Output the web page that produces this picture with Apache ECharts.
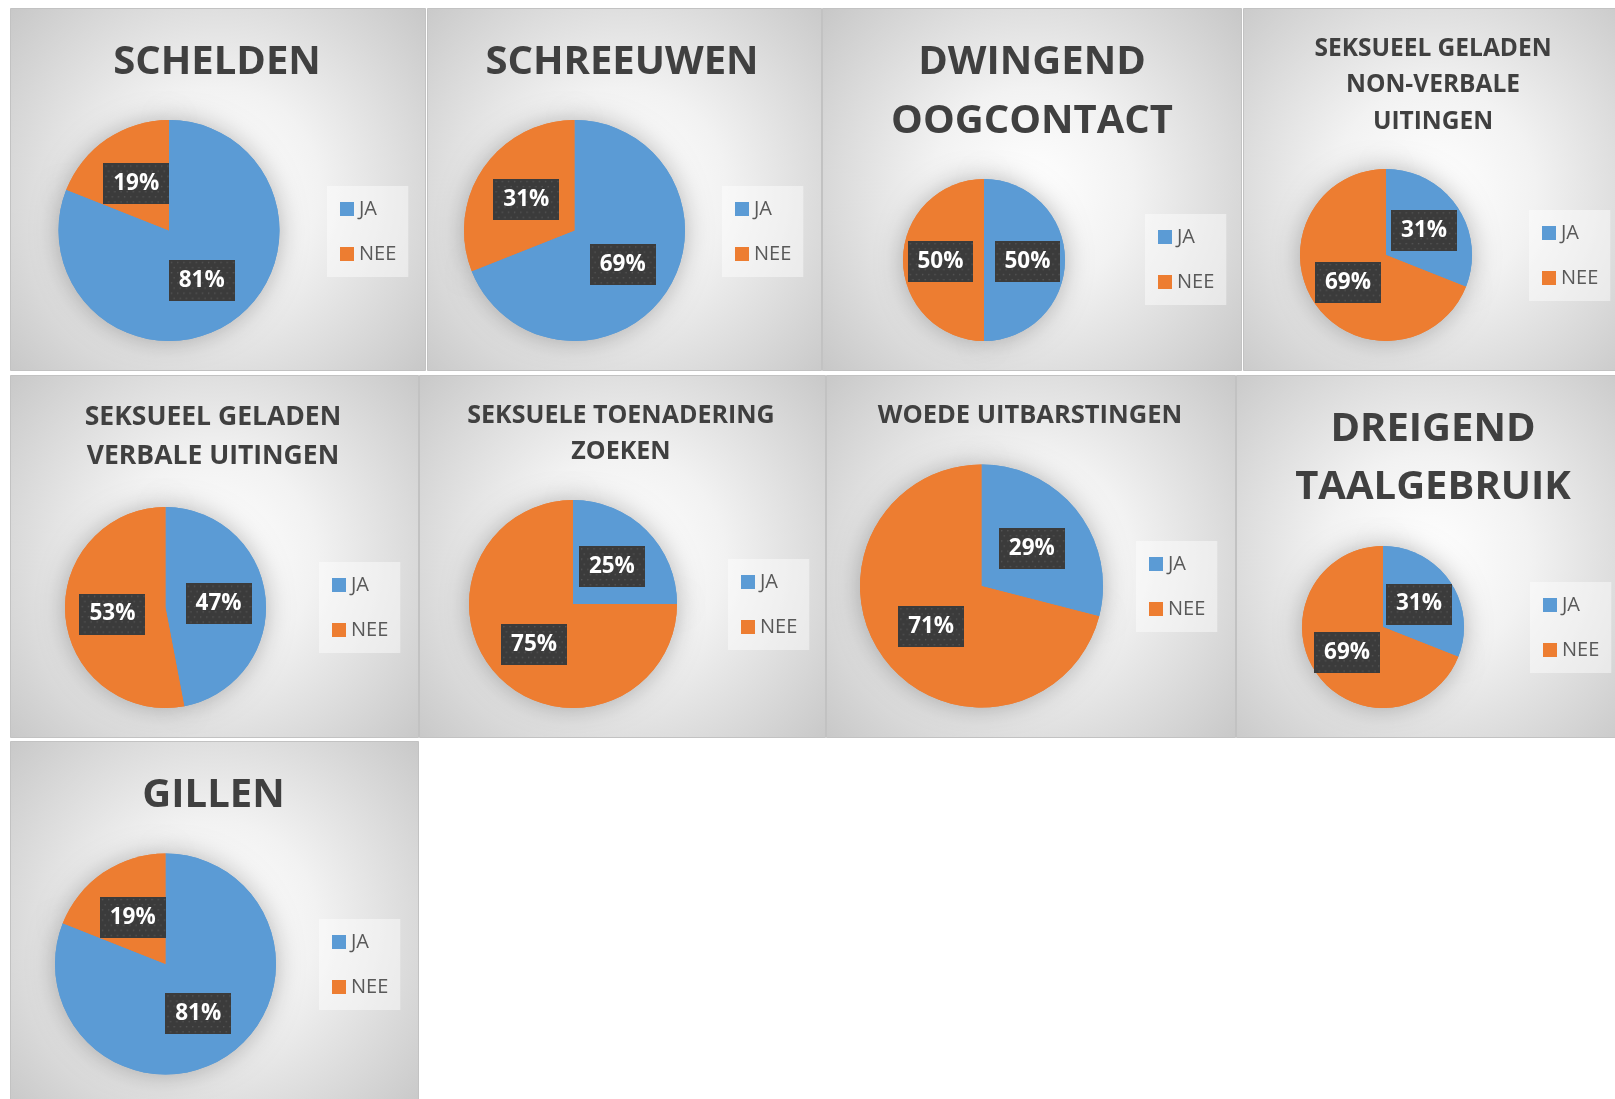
<!DOCTYPE html>
<html>
<head>
<meta charset="utf-8">
<script src="https://cdn.jsdelivr.net/npm/echarts@6/dist/echarts.min.js"></script>
<style>
  html, body { margin: 0; padding: 0; background: #ffffff; }
  #chart { width: 1615px; height: 1099px; }
</style>
</head>
<body>
<div id="chart"></div>
<script>
  // categories + values (percentages as printed in the labels)
  const categories = ['JA', 'NEE'];
  const titles = [
    'SCHELDEN',
    'SCHREEUWEN',
    'DWINGEND\nOOGCONTACT',
    'SEKSUEEL GELADEN\nNON-VERBALE\nUITINGEN',
    'SEKSUEEL GELADEN\nVERBALE UITINGEN',
    'SEKSUELE TOENADERING\nZOEKEN',
    'WOEDE UITBARSTINGEN',
    'DREIGEND\nTAALGEBRUIK',
    'GILLEN'
  ];
  const jaValues  = [81, 69, 50, 31, 47, 25, 29, 31, 81];
  const neeValues = [19, 31, 50, 69, 53, 75, 71, 69, 19];

  // layout of every panel (pixels)
  const panels = [
    { box: [10, 8, 415, 362],   pie: [169, 230.5, 110.5], title: [217, 33.5, 40, 58],  legend: [327, 186] },
    { box: [427, 8, 394, 362],  pie: [574.5, 230.5, 110.5], title: [622, 33.5, 40, 58], legend: [722, 186] },
    { box: [822, 8, 419, 362],  pie: [984, 260, 81],   title: [1032, 33.5, 40, 58.5], legend: [1145, 214] },
    { box: [1243, 8, 380, 362], pie: [1386, 255, 86],  title: [1433, 30.5, 24.5, 36.5], legend: [1529, 210] },
    { box: [10, 375, 408, 362], pie: [165.5, 607.5, 100.5], title: [213, 398.6, 26.5, 38.5], legend: [319, 562] },
    { box: [419, 375, 406, 362], pie: [573, 604, 104], title: [621, 397.7, 25, 36], legend: [728, 559] },
    { box: [826, 375, 409, 362], pie: [981.5, 586, 121.5], title: [1030, 397.3, 25.5, 36], legend: [1136, 541] },
    { box: [1236, 375, 384, 362], pie: [1383, 627, 81], title: [1433, 400.3, 40, 58], legend: [1530, 582] },
    { box: [10, 741, 408, 364], pie: [165.5, 964, 110.5], title: [213.5, 766.8, 40, 58], legend: [319, 919] }
  ];

  const colors = ['#5b9bd5', '#ed7d31'];

  // dotted dark fill for the data labels
  function dotted(w, h) {
    const c = document.createElement('canvas');
    c.width = w; c.height = h;
    const g = c.getContext('2d');
    g.fillStyle = '#3b3b3b';
    g.fillRect(0, 0, w, h);
    g.fillStyle = '#555555';
    let row = 0;
    for (let y = 2; y < h; y += 5) {
      for (let x = (row % 2 ? 4.5 : 2); x < w; x += 6) {
        g.fillRect(x, y, 1.4, 1.4);
      }
      row++;
    }
    return c;
  }
  const labelBg = dotted(64, 40);

  const myEcharts = echarts.init(document.getElementById('chart'));

  let graphics = [];
  let titleArr = [];
  let legendArr = [];
  let seriesArr = [];

  panels.forEach((p, i) => {
    graphics.push({
      type: 'rect',
      z: -10,
      shape: { x: p.box[0] + 0.5, y: p.box[1] + 0.5, width: p.box[2], height: p.box[3] },
      style: {
        fill: new echarts.graphic.RadialGradient(0.5, 0.5, 0.8, [
          { offset: 0, color: '#ffffff' },
          { offset: 0.35, color: '#f2f2f2' },
          { offset: 1, color: '#c4c4c4' }
        ]),
        stroke: '#c2c2c2',
        lineWidth: 1
      }
    });
    titleArr.push({
      text: titles[i],
      left: p.title[0],
      top: p.title[1],
      textAlign: 'center',
      padding: 0,
      textStyle: {
        fontFamily: 'Open Sans',
        fontWeight: 'bold',
        fontSize: p.title[2],
        lineHeight: p.title[3],
        color: '#404040'
      }
    });
    legendArr.push({
      data: categories,
      orient: 'vertical',
      left: p.legend[0],
      top: p.legend[1],
      padding: [13, 12, 13, 13],
      itemWidth: 14,
      itemHeight: 14,
      itemGap: 25,
      icon: 'rect',
      selectedMode: false,
      backgroundColor: 'rgba(255,255,255,0.45)',
      textStyle: {
        fontFamily: 'Open Sans',
        fontSize: 20,
        lineHeight: 16,
        color: '#595959'
      }
    });
    let data = categories.map((c, k) => ({
      name: c,
      value: k === 0 ? jaValues[i] : neeValues[i]
    }));
    // soft shadow halo under the pie
    seriesArr.push({
      type: 'pie',
      silent: true,
      z: 1,
      center: [p.pie[0], p.pie[1]],
      radius: p.pie[2],
      startAngle: 90,
      clockwise: true,
      data: data,
      color: colors,
      label: { show: false },
      labelLine: { show: false },
      itemStyle: {
        borderWidth: 0,
        shadowBlur: 26,
        shadowColor: 'rgba(0,0,0,0.28)'
      }
    });
    seriesArr.push({
      type: 'pie',
      z: 2,
      center: [p.pie[0], p.pie[1]],
      radius: p.pie[2],
      startAngle: 90,
      clockwise: true,
      data: data,
      color: colors,
      itemStyle: { borderWidth: 0 },
      emphasis: { disabled: true },
      label: {
        show: true,
        position: 'inside',
        formatter: '{c}%',
        offset: [0, 1.5],
        fontFamily: 'Open Sans',
        fontWeight: 'bold',
        fontSize: 22.5,
        lineHeight: 24,
        color: '#ffffff',
        backgroundColor: { image: labelBg },
        padding: [9, 10, 8, 10],
        shadowColor: 'rgba(0,0,0,0.55)',
        shadowBlur: 6,
        shadowOffsetX: 3,
        shadowOffsetY: 3
      },
      labelLine: { show: false }
    });
  });

  let option = {
    animation: false,
    backgroundColor: '#ffffff',
    graphic: graphics,
    title: titleArr,
    legend: legendArr,
    series: seriesArr
  };
  myEcharts.setOption(option);
</script>
</body>
</html>
